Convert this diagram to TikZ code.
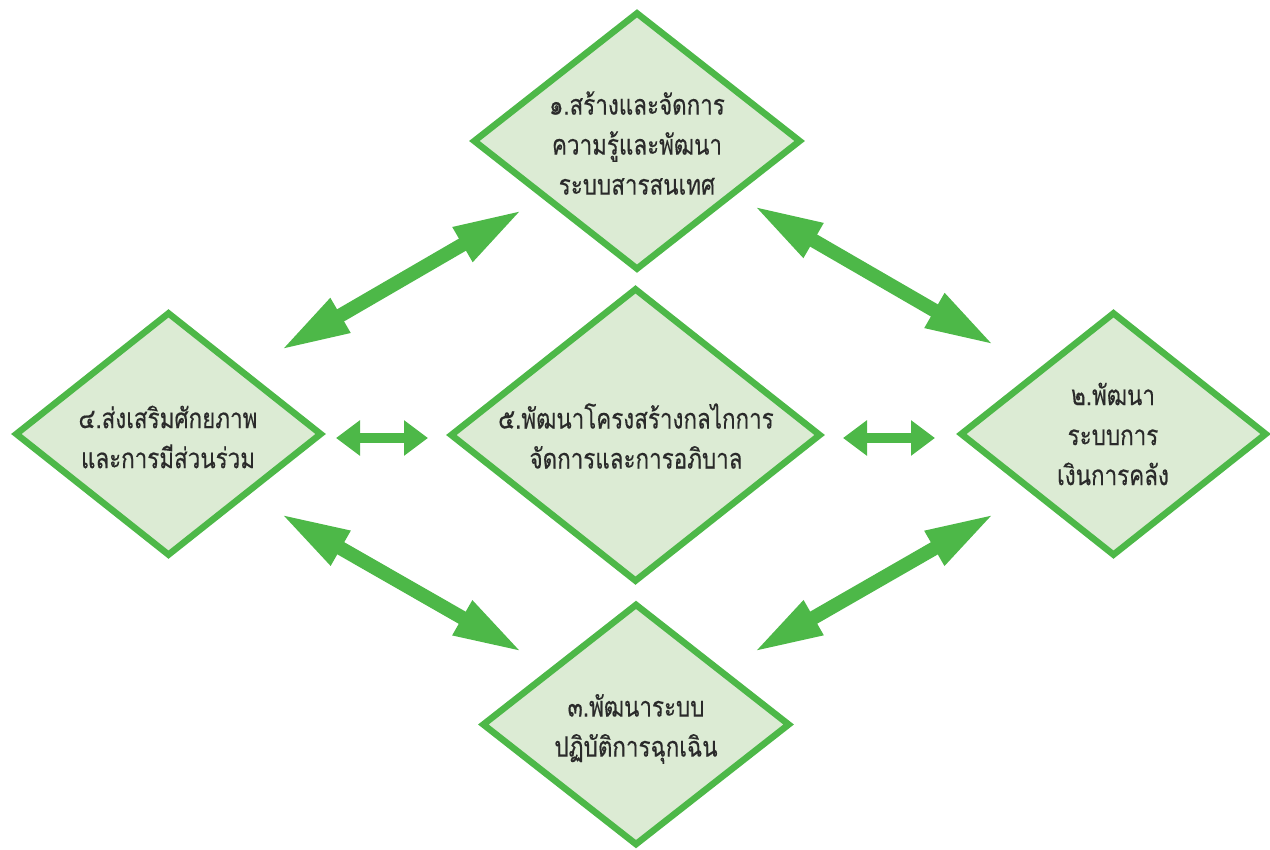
\documentclass[tikz,border=0pt]{standalone}
\usepackage{fontspec}
\newfontfamily\thaifont[Script=Thai,FakeStretch=0.8,FakeBold=0.3]{Loma}
\usetikzlibrary{shapes.geometric,arrows.meta}
\definecolor{gfill}{HTML}{DCEBD4}
\definecolor{gline}{HTML}{4DB848}
\definecolor{txt}{HTML}{2A2A2A}
\begin{document}
\begin{tikzpicture}[x=1pt,y=-1pt,
  dia/.style={diamond, draw=gline, fill=gfill, line width=6.5pt, inner sep=0pt},
  lbl/.style={align=center, inner sep=0pt, text=txt, font=\thaifont\fontsize{28}{40}\selectfont},
  bigarrow/.style={draw=gline, line width=14pt, {Triangle[length=70pt,width=36pt]}-{Triangle[length=70pt,width=36pt]}},
  smallarrow/.style={draw=gline, line width=10pt, {Triangle[length=24pt,width=34pt]}-{Triangle[length=24pt,width=34pt]}}
]
\useasboundingbox (0,0) rectangle (1270,850);
% diamonds
\node[dia, minimum width=328pt, minimum height=258pt] (n1) at (637,141) {};
\node[dia, minimum width=307pt, minimum height=244pt] (n2) at (1113.5,434) {};
\node[dia, minimum width=308pt, minimum height=242pt] (n3) at (636,724.5) {};
\node[dia, minimum width=307pt, minimum height=244pt] (n4) at (168.5,434) {};
\node[dia, minimum width=371pt, minimum height=294pt] (n5) at (635.5,435) {};
% labels
\node[lbl] (t1) at (637,143) {๑.สร้างและจัดการ\\ความรู้และพัฒนา\\ระบบสารสนเทศ};
\node[lbl] (t2) at (1113,434) {๒.พัฒนา\\ระบบการ\\เงินการคลัง};
\node[lbl] (t3) at (636,729) {๓.พัฒนาระบบ\\ปฏิบัติการฉุกเฉิน};
\node[lbl] (t4) at (168,437) {๔.ส่งเสริมศักยภาพ\\และการมีส่วนร่วม};
\node[lbl] (t5) at (636,436) {๕.พัฒนาโครงสร้างกลไกการ\\จัดการและการอภิบาล};
% arrow end points
\coordinate (a1s) at (280,350.5); \coordinate (a1e) at (523,209.5);
\coordinate (a2s) at (753,205.5); \coordinate (a2e) at (995,345.5);
\coordinate (a3s) at (280,513.5); \coordinate (a3e) at (523,652.5);
\coordinate (a4s) at (753,652.5); \coordinate (a4e) at (995,513.5);
\coordinate (a5s) at (336,438); \coordinate (a5e) at (428,438);
\coordinate (a6s) at (843,438); \coordinate (a6e) at (935,438);
\draw[bigarrow] (a1s) -- (a1e);
\draw[bigarrow] (a2s) -- (a2e);
\draw[bigarrow] (a3s) -- (a3e);
\draw[bigarrow] (a4s) -- (a4e);
\draw[smallarrow] (a5s) -- (a5e);
\draw[smallarrow] (a6s) -- (a6e);
\end{tikzpicture}
\end{document}
